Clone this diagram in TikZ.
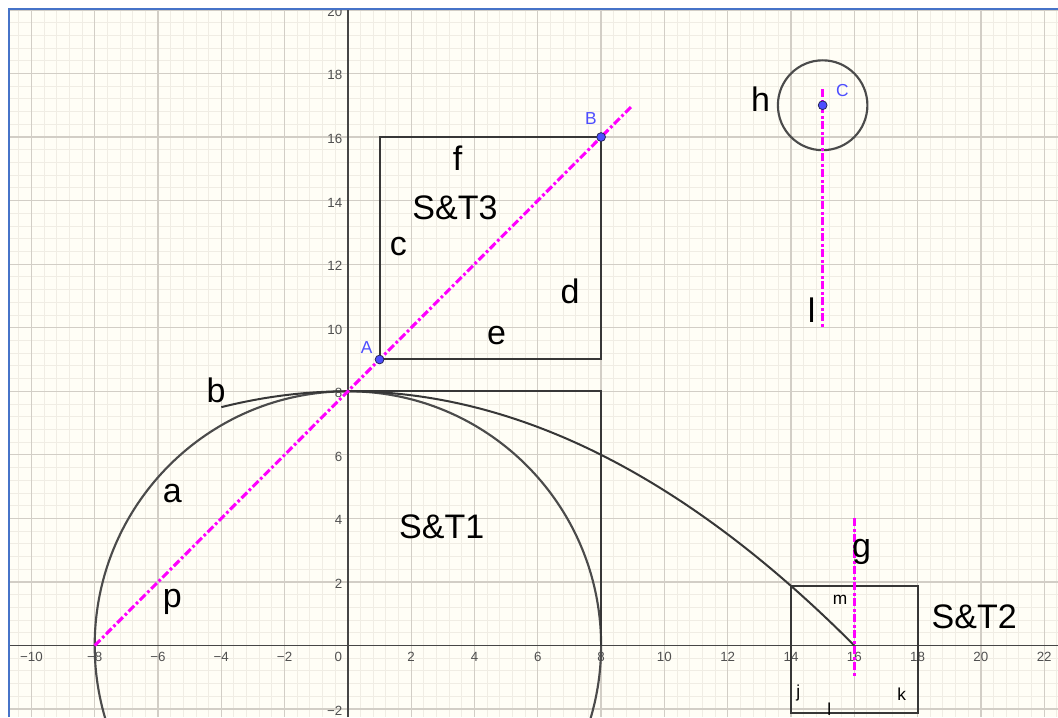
\documentclass[tikz,border=0pt]{standalone}
\usepackage{fontspec}
\setmainfont{Liberation Sans}
\definecolor{bgcream}{RGB}{255,254,246}
\definecolor{gridminor}{RGB}{240,237,228}
\definecolor{gridmajor}{RGB}{210,206,198}
\definecolor{axisgray}{RGB}{70,70,70}
\definecolor{ticktext}{RGB}{80,80,80}
\definecolor{objgray}{RGB}{55,55,55}
\definecolor{magline}{RGB}{255,0,255}
\definecolor{ptblue}{RGB}{77,77,255}
\definecolor{ptdark}{RGB}{40,40,90}
\definecolor{frameblue}{RGB}{70,115,200}
\begin{document}
\begin{tikzpicture}[x=23.7375pt, y=23.835pt,
  minorline/.style={draw=gridminor, line width=0.7pt},
  majorline/.style={draw=gridmajor, line width=0.95pt},
  axisline/.style={draw=axisgray, line width=1pt},
  ticklab/.style={font=\fontsize{10}{11}\selectfont, text=ticktext, inner sep=0pt},
  biglab/.style={font=\fontsize{25.5}{29}\selectfont, text=black, inner sep=0pt},
  smalllab/.style={font=\fontsize{13}{15}\selectfont, text=black, inner sep=0pt},
  ptlab/.style={font=\fontsize{13}{15}\selectfont, text=ptblue, inner sep=0pt},
  objline/.style={draw=objgray, line width=1.5pt},
  circline/.style={draw=objgray!90!white, line width=1.6pt},
  magdash/.style={draw=magline, line width=2.3pt, dash pattern=on 6pt off 2pt on 2pt off 2pt},
  geopt/.style={circle, fill=ptblue, draw=ptdark, line width=0.6pt, minimum size=6.6pt, inner sep=0pt}
]
\def\xmin{-10.992}\def\xmax{22.436}\def\ymin{-2.25}\def\ymax{20.312}
\useasboundingbox (\xmin,\ymin) rectangle (\xmax,\ymax);
\fill[bgcream] (\xmin,\ymin) rectangle (\xmax,\ymax);
\begin{scope}
\clip (\xmin,\ymin) rectangle (\xmax,\ymax);
% minor grid
\foreach \i in {-27,...,56} \draw[minorline] ({\i*0.4},\ymin) -- ({\i*0.4},\ymax);
\foreach \j in {-5,...,50} \draw[minorline] (\xmin,{\j*0.4}) -- (\xmax,{\j*0.4});
% major grid
\foreach \i in {-10,-8,...,22} \draw[majorline] (\i,\ymin) -- (\i,\ymax);
\foreach \j in {-2,0,...,20} \draw[majorline] (\xmin,\j) -- (\xmax,\j);
% axes
\draw[axisline] (\xmin,0) -- (\xmax,0);
\draw[axisline] (0,\ymin) -- (0,\ymax);
% tick labels
\foreach \v/\t in {-10/−10,-8/−8,-6/−6,-4/−4,-2/−2}
  \node[ticklab] (xl\v) at (\v,-0.36) {\t};
\foreach \v in {2,4,...,22}
  \node[ticklab] (xl\v) at (\v,-0.36) {\v};
\node[ticklab] (xl0) at (-0.30,-0.36) {0};
\foreach \v in {2,4,...,20}
  \node[ticklab, anchor=east] (yl\v) at (-0.17,{\v-0.06}) {\v};
\node[ticklab, anchor=east] (ylm2) at (-0.17,-2.05) {−2};
% objects
\draw[circline] (0,0) circle [radius=8];
\draw[circline] (15,17) circle [radius=1.414];
\draw[objline] plot[domain=-4:16, samples=140, smooth] (\x,{8-\x*\x/32});
\draw[objline] (0,8) -- (8,8) -- (8,0);
\draw[objline] (1,9) rectangle (8,16);
\draw[objline] (14,-2.125) rectangle (18,1.875);
% magenta lines
\coordinate (p0) at (-8,0);
\coordinate (p1) at (9,17);
\coordinate (l0) at (15,17.5);
\coordinate (l1) at (15,10);
\coordinate (g0) at (16,4);
\coordinate (g1) at (16,-1);
\draw[magdash] (p0) -- (p1);
\draw[magdash] (l0) -- (l1);
\draw[magdash] (g0) -- (g1);
% points
\node[geopt] (A) at (1,9) {};
\node[geopt] (B) at (8,16) {};
\node[geopt] (C) at (15,17) {};
\node[ptlab] (Alab) at (0.594,9.38) {A};
\node[ptlab] (Blab) at (7.681,16.59) {B};
\node[ptlab] (Clab) at (15.62,17.46) {C};
% labels
\node[biglab] (labf) at (3.469,15.33) {f};
\node[biglab] (labST3) at (3.384,13.78) {S\&T3};
\node[biglab] (labc) at (1.592,12.55) {c};
\node[biglab] (labd) at (7.017,11.13) {d};
\node[biglab] (labe) at (4.701,9.77) {e};
\node[biglab] (labh) at (13.04,17.20) {h};
\node[biglab] (labl) at (14.65,10.54) {l};
\node[biglab] (labb) at (-4.167,8.04) {b};
\node[biglab] (laba) at (-5.548,4.79) {a};
\node[biglab] (labp) at (-5.548,1.38) {p};
\node[biglab] (labST1) at (2.964,3.74) {S\&T1};
\node[biglab] (labg) at (16.23,2.95) {g};
\node[biglab] (labST2) at (19.79,0.91) {S\&T2};
\node[smalllab] (labm) at (15.55,1.45) {m};
\node[smalllab] (labj) at (14.23,-1.50) {j};
\node[smalllab] (labk) at (17.50,-1.54) {k};
\node[smalllab] (labl2) at (15.21,-2.0) {l};
\end{scope}
% window frame
\fill[white] (\xmin,20.06) rectangle (\xmax,\ymax);
\fill[white] (\xmin,\ymin) rectangle (-10.739,\ymax);
\draw[frameblue, line width=1.7pt] (-10.701,\ymin) -- (-10.701,20.022) -- (\xmax,20.022);
\end{tikzpicture}
\end{document}
